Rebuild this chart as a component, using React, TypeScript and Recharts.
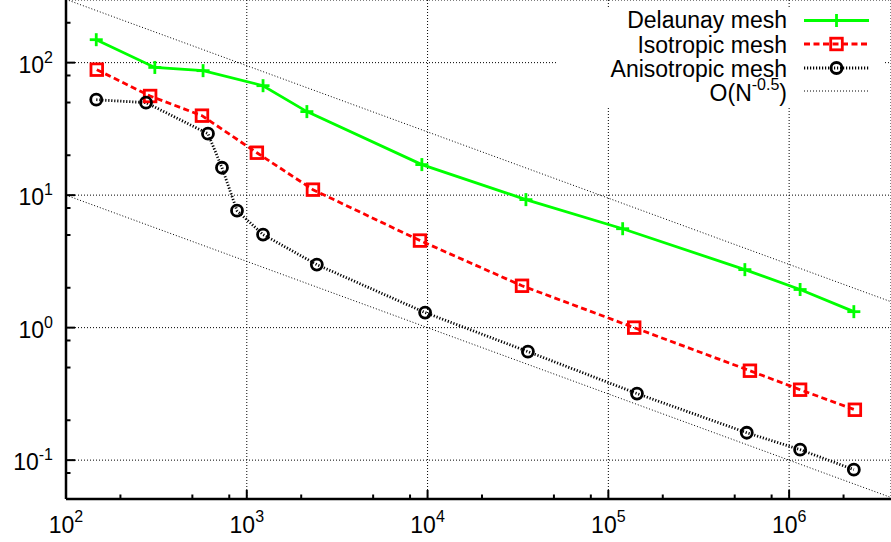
import React from 'react';
import { LineChart, Line, XAxis, YAxis, CartesianGrid, Legend } from 'recharts';

// ---- data ----
const delaunayN = [147, 310, 573, 1230, 2150, 9300, 35000, 120000, 569000, 1150000, 2280000];
const delaunayErr = [149, 92, 87, 67, 42.7, 17, 9.25, 5.58, 2.74, 1.94, 1.32];

const isoN = [148, 292, 565, 1137, 2323, 9080, 33300, 139000, 607000, 1150000, 2310000];
const isoErr = [88.5, 56, 39.8, 20.9, 11, 4.54, 2.07, 1.0, 0.473, 0.34, 0.24];

const anisoN = [147, 277, 610, 729, 883, 1230, 2440, 9690, 35900, 144000, 583000, 1150000, 2280000];
const anisoErr = [52.5, 49.9, 29.1, 16.1, 7.64, 5.04, 2.99, 1.3, 0.659, 0.318, 0.161, 0.12, 0.0848];

const refN = [100, 10000000];
const refUpper = [300, 0.949];
const refLower = [10, 0.0316];

const seriesNames = ['Delaunay mesh', 'Isotropic mesh', 'Anisotropic mesh'];
const refLabelBase = 'O(N';
const refLabelExp = '-0.5';
const refLabelEnd = ')';

const xMajorTicks = [100, 1000, 10000, 100000, 1000000];
const xTickExponents = ['2', '3', '4', '5', '6'];
const xMinorTicks = [200, 500, 800, 2000, 5000, 8000, 20000, 50000, 80000, 200000, 500000, 800000, 2000000];
const yMajorTicks = [0.1, 1, 10, 100];
const yTickExponents = ['-1', '0', '1', '2'];
const yMinorTicks = [0.08, 0.2, 0.5, 0.8, 2, 5, 8, 20, 50, 80, 200];

const xDomain = [100, 3660000];
const yDomain = [0.0509, 297];

const zip = (xs: number[], ys: number[]) => xs.map((n, i) => ({ N: n, v: ys[i] }));
const delaunayData = zip(delaunayN, delaunayErr);
const isoData = zip(isoN, isoErr);
const anisoData = zip(anisoN, anisoErr);
const upperData = zip(refN, refUpper);
const lowerData = zip(refN, refLower);

const xAllTicks = [...xMajorTicks, ...xMinorTicks].sort((a, b) => a - b);
const yAllTicks = [...yMajorTicks, ...yMinorTicks].sort((a, b) => a - b);

const FONT = '"Liberation Sans", Arial, Helvetica, sans-serif';
const GREEN = '#00ff00';
const RED = '#ff0000';
const MARK_W = 2.8;
const ANISO_DASH = '1.2 1.8';
const ISO_DASH = '6 3.5';

const BottomTick = (props: any) => {
  const { x, y, payload } = props;
  const idx = xMajorTicks.indexOf(payload.value);
  const major = idx >= 0;
  return (
    <g>
      <line x1={x} x2={x} y1={y} y2={y - (major ? 9 : 4.5)} stroke="#000" strokeWidth={2} />
      {major && (
        <text x={x} y={y + 34} textAnchor="middle" fontFamily={FONT} fontSize={23} fill="#000">
          10
          <tspan dy={-11} fontSize={16}>{xTickExponents[idx]}</tspan>
        </text>
      )}
    </g>
  );
};

const TopTick = (props: any) => {
  const { x, y, payload } = props;
  const major = xMajorTicks.indexOf(payload.value) >= 0;
  return <line x1={x} x2={x} y1={y} y2={y + (major ? 9 : 4.5)} stroke="#000" strokeWidth={2} />;
};

const LeftTick = (props: any) => {
  const { x, y, payload } = props;
  const idx = yMajorTicks.indexOf(payload.value);
  const major = idx >= 0;
  return (
    <g>
      <line x1={x} x2={x + (major ? 9 : 4.5)} y1={y} y2={y} stroke="#000" strokeWidth={2} />
      {major && (
        <text x={x - 13} y={y + 10} textAnchor="end" fontFamily={FONT} fontSize={23} fill="#000">
          10
          <tspan dy={-10} fontSize={16}>{yTickExponents[idx]}</tspan>
        </text>
      )}
    </g>
  );
};

const PlusDot = (props: any) => {
  const { cx, cy, index } = props;
  if (cx == null || cy == null) return <g key={`p${index}`} />;
  return (
    <g key={`p${index}`}>
      <line x1={cx - 6.5} x2={cx + 6.5} y1={cy} y2={cy} stroke={GREEN} strokeWidth={MARK_W} />
      <line x1={cx} x2={cx} y1={cy - 6.5} y2={cy + 6.5} stroke={GREEN} strokeWidth={MARK_W} />
    </g>
  );
};

const SquareDot = (props: any) => {
  const { cx, cy, index } = props;
  if (cx == null || cy == null) return <g key={`s${index}`} />;
  return (
    <rect key={`s${index}`} x={cx - 5.8} y={cy - 5.8} width={11.6} height={11.6} fill="none" stroke={RED} strokeWidth={MARK_W} />
  );
};

const CircleDot = (props: any) => {
  const { cx, cy, index } = props;
  if (cx == null || cy == null) return <g key={`c${index}`} />;
  return <circle key={`c${index}`} cx={cx} cy={cy} r={5.5} fill="none" stroke="#000" strokeWidth={MARK_W} />;
};

const LegendBox = () => {
  const textX = 229;
  const x1 = 246;
  const x2 = 311;
  const mx = 278.5;
  const top = 9;
  const baselines = [27.7, 52.5, 76.5, 101];
  const lineYs = [20.5, 44, 68, 91];
  return (
    <svg width={325} height={106} style={{ display: 'block' }}>
      <rect x={0} y={top} width={325} height={97} fill="#fff" />
      {seriesNames.map((name, i) => (
        <text key={name} x={textX} y={baselines[i]} textAnchor="end" fontFamily={FONT} fontSize={23} fill="#000">
          {name}
        </text>
      ))}
      <text x={textX} y={baselines[3]} textAnchor="end" fontFamily={FONT} fontSize={23} fill="#000">
        {refLabelBase}
        <tspan dy={-11} fontSize={16}>{refLabelExp}</tspan>
        <tspan dy={11}>{refLabelEnd}</tspan>
      </text>
      <line x1={x1} x2={x2} y1={lineYs[0]} y2={lineYs[0]} stroke={GREEN} strokeWidth={2.8} />
      <line x1={mx - 6.5} x2={mx + 6.5} y1={lineYs[0]} y2={lineYs[0]} stroke={GREEN} strokeWidth={MARK_W} />
      <line x1={mx} x2={mx} y1={lineYs[0] - 6.5} y2={lineYs[0] + 6.5} stroke={GREEN} strokeWidth={MARK_W} />
      <line x1={x1} x2={x2} y1={lineYs[1]} y2={lineYs[1]} stroke={RED} strokeWidth={2.8} strokeDasharray={ISO_DASH} />
      <rect x={mx - 5.8} y={lineYs[1] - 5.8} width={11.6} height={11.6} fill="none" stroke={RED} strokeWidth={MARK_W} />
      <line x1={x1} x2={x2} y1={lineYs[2]} y2={lineYs[2]} stroke="#000" strokeWidth={2.8} strokeDasharray={ANISO_DASH} />
      <circle cx={mx} cy={lineYs[2]} r={5.5} fill="none" stroke="#000" strokeWidth={MARK_W} />
      <line x1={x1} x2={x2} y1={lineYs[3]} y2={lineYs[3]} stroke="#000" strokeWidth={1} strokeDasharray="1 2" />
    </svg>
  );
};

export default function App() {
  return (
    <div style={{ position: 'absolute', left: 0, top: 0, width: 891, height: 542, background: '#fff' }}>
      <LineChart width={891} height={542} margin={{ top: 0, right: 0, bottom: 0, left: 0 }}>
        <XAxis
          xAxisId="x"
          type="number"
          dataKey="N"
          scale="log"
          domain={xDomain}
          allowDataOverflow
          ticks={xAllTicks}
          interval={0}
          height={43}
          tickSize={0}
          tickMargin={0}
          tickLine={false}
          tick={<BottomTick />}
          axisLine={{ stroke: '#000', strokeWidth: 2.5 }}
        />
        <XAxis
          xAxisId="top"
          orientation="top"
          type="number"
          dataKey="N"
          scale="log"
          domain={xDomain}
          allowDataOverflow
          ticks={xAllTicks}
          interval={0}
          height={0}
          tickSize={0}
          tickMargin={0}
          tickLine={false}
          tick={<TopTick />}
          axisLine={{ stroke: '#000', strokeWidth: 3 }}
        />
        <YAxis
          yAxisId="y"
          type="number"
          dataKey="v"
          scale="log"
          domain={yDomain}
          allowDataOverflow
          ticks={yAllTicks}
          interval={0}
          width={66}
          tickSize={0}
          tickMargin={0}
          tickLine={false}
          tick={<LeftTick />}
          axisLine={{ stroke: '#000', strokeWidth: 2.5 }}
        />
        <XAxis xAxisId="gx" type="number" dataKey="N" scale="log" domain={xDomain} allowDataOverflow ticks={xMajorTicks} height={0} hide />
        <YAxis yAxisId="gy" type="number" dataKey="v" scale="log" domain={yDomain} allowDataOverflow ticks={yMajorTicks} width={0} hide />
        <CartesianGrid xAxisId="gx" yAxisId="gy" stroke="#000" strokeWidth={1} strokeDasharray="1 2" />
        <Line
          xAxisId="x"
          yAxisId="y"
          data={delaunayData}
          dataKey="v"
          name={seriesNames[0]}
          stroke={GREEN}
          strokeWidth={2.8}
          dot={PlusDot}
          activeDot={false}
          isAnimationActive={false}
        />
        <Line
          xAxisId="x"
          yAxisId="y"
          data={isoData}
          dataKey="v"
          name={seriesNames[1]}
          stroke={RED}
          strokeWidth={2.8}
          strokeDasharray={ISO_DASH}
          dot={SquareDot}
          activeDot={false}
          isAnimationActive={false}
        />
        <Line
          xAxisId="x"
          yAxisId="y"
          data={anisoData}
          dataKey="v"
          name={seriesNames[2]}
          stroke="#000"
          strokeWidth={2.8}
          strokeDasharray={ANISO_DASH}
          dot={CircleDot}
          activeDot={false}
          isAnimationActive={false}
        />
        <Line
          xAxisId="x"
          yAxisId="y"
          data={upperData}
          dataKey="v"
          name="O(N^-0.5)"
          stroke="#000"
          strokeWidth={1}
          strokeDasharray="1 2"
          dot={false}
          activeDot={false}
          isAnimationActive={false}
        />
        <Line
          xAxisId="x"
          yAxisId="y"
          data={lowerData}
          dataKey="v"
          legendType="none"
          stroke="#000"
          strokeWidth={1}
          strokeDasharray="1 2"
          dot={false}
          activeDot={false}
          isAnimationActive={false}
        />
        <Legend
          layout="horizontal"
          verticalAlign="middle"
          align="center"
          content={<LegendBox />}
          wrapperStyle={{ left: 558, top: 0, width: 325, height: 106, pointerEvents: 'none' }}
        />
      </LineChart>
    </div>
  );
}
